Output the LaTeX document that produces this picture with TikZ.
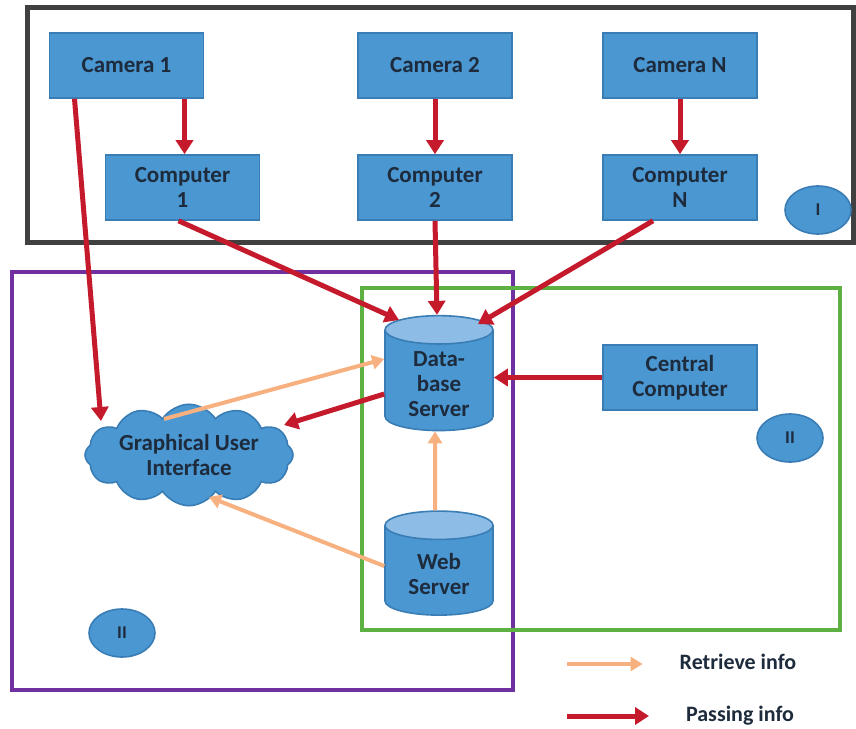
\documentclass[tikz,border=0pt]{standalone}
\usepackage{fontspec}
\setmainfont{Carlito}
\usepackage{tikz}
\usetikzlibrary{arrows.meta, positioning, shapes.geometric, shapes.symbols}

\definecolor{boxblue}{HTML}{4A97D2}
\definecolor{boxedge}{HTML}{3A7DB5}
\definecolor{topblue}{HTML}{8DBDE6}
\definecolor{passred}{HTML}{C41A2C}
\definecolor{getorange}{HTML}{F7B07F}
\definecolor{txt}{HTML}{1D2B3C}
\definecolor{frameI}{HTML}{404040}
\definecolor{frameP}{HTML}{7030A0}
\definecolor{frameG}{HTML}{5DB142}

\tikzset{
  device/.style={rectangle, draw=boxedge, fill=boxblue, thick, minimum width=77pt,
    minimum height=32.5pt, align=center, text=txt, font=\fontsize{11.5}{12.5}\selectfont\bfseries},
  store/.style={cylinder, shape border rotate=90, aspect=0.38, draw=boxedge, thick,
    cylinder uses custom fill, cylinder body fill=boxblue, cylinder end fill=topblue,
    minimum width=54pt, minimum height=52pt, align=center, text=txt,
    font=\fontsize{11.5}{12.5}\selectfont\bfseries},
  tag/.style={ellipse, draw=boxedge, fill=boxblue, thick, minimum width=33pt,
    minimum height=24pt, text=txt, font=\fontsize{9}{10}\selectfont\bfseries},
  passing/.style={draw=passred, line width=2.5pt, -{Triangle[length=7pt,width=8.5pt]}},
  retrieve/.style={draw=getorange, line width=2pt, -{Triangle[length=6pt,width=7pt]}},
}

\begin{document}
\begin{tikzpicture}[x=0.5pt, y=-0.5pt]
  \useasboundingbox (0,0) rectangle (856,728);
  % ---------- FRAMES ----------
  \draw[frameI, line width=2.5pt] (27,7) rectangle (853,242);
  \draw[frameP, line width=2pt] (12,272) rectangle (513,690);
  \draw[frameG, line width=2pt] (362,288) rectangle (840,630);
  % ---------- CAMERAS ----------
  \node[device] (cam1) at (126.5,65.5) {Camera 1};
  \node[device] (cam2) at (435,65.5) {Camera 2};
  \node[device] (camN) at (680,65.5) {Camera N};
  \node[device] (comp1) at (182.5,187.5) {Computer\\1};
  \node[device] (comp2) at (435,187.5) {Computer\\2};
  \node[device] (compN) at (680,187.5) {Computer\\N};
  \node[tag] (tagI) at (818,210) {I};
  % ---------- SERVERS ----------
  \node[store] (db) at (439,384) {Data-\\base\\Server};
  \node[store] (web) at (439,574) {Web\\Server};
  \node[device] (central) at (680,377.5) {Central\\Computer};
  \node[tag] (tagG) at (790,438) {II};
  \node[tag] (tagP) at (122,633) {II};
  % ---------- GUI ----------
  \node[cloud, cloud puffs=12, cloud puff arc=115, aspect=2.6, inner sep=0pt, draw=boxedge, thick,
    fill=boxblue, minimum width=104pt, minimum height=42pt, align=center, text=txt,
    font=\fontsize{11.5}{12.5}\selectfont\bfseries] (gui) at (189,455) {Graphical User\\Interface};
  % ---------- PASSING ----------
  \draw[passing] ([xshift=29pt]cam1.south) -- ([xshift=1pt]comp1.north);
  \draw[passing] (cam2.south) -- (comp2.north);
  \draw[passing] (camN.south) -- (compN.north);
  \draw[passing] ([xshift=-26pt]cam1.south) -- ([xshift=-44pt,yshift=17pt]gui.center);
  \draw[passing] ([xshift=-2pt]comp1.south) -- ([xshift=-20pt,yshift=32pt]db.center);
  \draw[passing] (comp2.south) -- ([xshift=-1pt]db.north);
  \draw[passing] ([xshift=-13.5pt]compN.south) -- ([xshift=19.5pt,yshift=30pt]db.center);
  \draw[passing] (central.west) -- (db.east |- central.west);
  \draw[passing] ([yshift=-5pt]db.west) -- ([xshift=47.5pt,yshift=15pt]gui.center);
  % ---------- RETRIEVE ----------
  \draw[retrieve] ([xshift=-12.5pt,yshift=18pt]gui.center) -- ([yshift=12.5pt]db.west);
  \draw[retrieve] ([xshift=-2pt]web.north) -- ([xshift=-2pt]db.south);
  \draw[retrieve] ([yshift=4pt]web.west) -- ([xshift=10pt,yshift=-21pt]gui.center);
  % ---------- LEGEND ----------
  \node[text=txt, font=\fontsize{11}{12}\selectfont\bfseries] (lgR) at (738,662) {Retrieve info};
  \node[text=txt, font=\fontsize{11}{12}\selectfont\bfseries] (lgP) at (740,716) {Passing info};
  \coordinate (lgR0) at (567,664);
  \coordinate (lgP0) at (567,716);
  \draw[retrieve] (lgR0) -- ([xshift=-15pt]lgR.west |- lgR0);
  \draw[passing] (lgP0) -- ([xshift=-15pt]lgP.west |- lgP0);
\end{tikzpicture}
\end{document}
